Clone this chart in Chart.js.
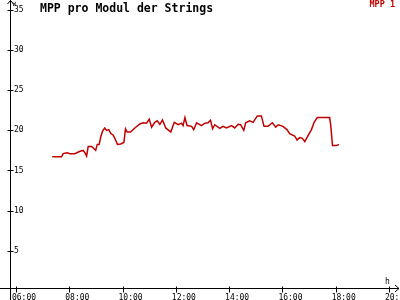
<!DOCTYPE html>
<html>
<head>
<meta charset="utf-8">
<script src="https://cdn.jsdelivr.net/npm/chart.js@4/dist/chart.umd.min.js"></script>
<style>
  html, body { margin: 0; padding: 0; background: #fff; }
  #wrap { width: 400px; height: 300px; position: relative; }
</style>
</head>
<body>
<div id="wrap"><canvas id="mppChart"></canvas></div>
<script>
// time of day in hours
const hours = [
    7.36, 7.71, 7.77, 7.92, 8.02, 8.21, 8.40, 8.52, 8.59, 8.65,
    8.71, 8.84, 8.90, 8.99, 9.05, 9.12, 9.19, 9.25, 9.33, 9.40,
    9.48, 9.56, 9.65, 9.75, 9.81, 9.93, 10.05, 10.11, 10.17, 10.30,
    10.46, 10.65, 10.77, 10.90, 11.00, 11.09, 11.21, 11.30, 11.40, 11.50,
    11.62, 11.81, 11.94, 12.09, 12.21, 12.27, 12.34, 12.42, 12.59, 12.67,
    12.78, 12.96, 13.09, 13.21, 13.30, 13.38, 13.46, 13.65, 13.77, 13.90,
    14.09, 14.21, 14.34, 14.43, 14.55, 14.62, 14.77, 14.90, 15.06, 15.21,
    15.31, 15.46, 15.62, 15.75, 15.84, 16.02, 16.17, 16.27, 16.46, 16.55,
    16.65, 16.75, 16.84, 16.92, 17.09, 17.19, 17.31, 17.77, 17.81, 17.88,
    18.03, 18.12
];
// MPP 1 power per module (W)
const mpp1 = [
    16.7, 16.7, 17.1, 17.2, 17.1, 17.1, 17.4, 17.5, 17.2, 16.8,
    18.0, 18.0, 17.8, 17.5, 18.25, 18.25, 19.3, 19.9, 20.3, 20.0,
    20.1, 19.6, 19.4, 18.7, 18.25, 18.3, 18.5, 20.2, 19.8, 19.8,
    20.3, 20.8, 20.95, 20.9, 21.4, 20.4, 21.0, 21.2, 20.75, 21.3,
    20.3, 19.8, 21.0, 20.7, 20.9, 20.6, 21.6, 20.6, 20.5, 20.1,
    20.95, 20.6, 20.9, 20.95, 21.25, 20.2, 20.7, 20.25, 20.5, 20.3,
    20.6, 20.3, 20.75, 20.7, 20.0, 20.95, 21.2, 21.0, 21.8, 21.8,
    20.5, 20.5, 20.95, 20.4, 20.7, 20.5, 20.1, 19.6, 19.3, 18.8,
    19.1, 19.0, 18.6, 19.1, 20.1, 21.0, 21.6, 21.6, 20.75, 18.1,
    18.1, 18.25
];
const xTicks = [6, 8, 10, 12, 14, 16, 18, 20];
const xTickLabels = ['06:00', '08:00', '10:00', '12:00', '14:00', '16:00', '18:00', '20:00'];
const yTicks = [5, 10, 15, 20, 25, 30, 35];

const MONO = '"DejaVu Sans Mono", "Liberation Mono", monospace';

// axes with arrows, small tick crosses, title, legend and units
const decorations = {
    id: 'decorations',
    afterDraw(chart) {
        const ctx = chart.ctx;
        const xs = chart.scales.x;
        const ys = chart.scales.y;
        const ax = Math.round(chart.chartArea.left) - 0.5;
        const ay = Math.round(chart.chartArea.bottom) - 0.5;
        ctx.save();
        ctx.strokeStyle = '#000';
        ctx.lineWidth = 1;
        ctx.beginPath();
        ctx.moveTo(ax, 0);
        ctx.lineTo(ax, 300);
        ctx.moveTo(0, ay);
        ctx.lineTo(399, ay);
        // arrow heads
        ctx.moveTo(ax - 3, 4);
        ctx.lineTo(ax, 0.5);
        ctx.lineTo(ax + 3, 4);
        ctx.moveTo(395, ay - 3.5);
        ctx.lineTo(399, ay);
        ctx.lineTo(395, ay + 3.5);
        yTicks.forEach(v => {
            const py = Math.round(ys.getPixelForValue(v)) + 0.5;
            ctx.moveTo(ax - 3, py);
            ctx.lineTo(ax + 3, py);
        });
        xTicks.forEach(v => {
            const px = Math.round(xs.getPixelForValue(v)) + 0.5;
            ctx.moveTo(px, ay - 2);
            ctx.lineTo(px, ay + 4);
        });
        ctx.stroke();

        ctx.fillStyle = '#000';
        ctx.textBaseline = 'top';
        ctx.textAlign = 'left';
        ctx.font = 'bold 11.5px ' + MONO;
        ctx.fillText('MPP pro Modul der Strings', 40, 3);
        ctx.font = '6px ' + MONO;
        ctx.fillText('W', ax + 2, 1);
        ctx.font = '8px ' + MONO;
        ctx.fillText('h', 385, 278);
        ctx.fillStyle = '#c00000';
        ctx.textAlign = 'right';
        ctx.font = 'bold 8.5px ' + MONO;
        ctx.fillText(chart.data.datasets[0].label, 395, 1);
        ctx.restore();
    }
};

new Chart(document.getElementById('mppChart'), {
    type: 'line',
    data: {
        datasets: [{
            label: 'MPP 1',
            data: hours.map((h, i) => ({ x: h, y: mpp1[i] })),
            borderColor: '#c00000',
            borderWidth: 1.5,
            pointRadius: 0,
            tension: 0,
            fill: false,
        }],
    },
    options: {
        responsive: true,
        maintainAspectRatio: false,
        animation: false,
        layout: { padding: { left: 11, right: 2, top: 0, bottom: 0 } },
        plugins: {
            legend: { display: false },
            title: { display: false },
            tooltip: { enabled: false },
        },
        scales: {
            x: {
                type: 'linear',
                min: 5.812,
                max: 20.338,
                afterBuildTicks: (scale) => { scale.ticks = xTicks.map(v => ({ value: v })); },
                afterFit: (scale) => {
                    scale.height = 11;
                    scale.paddingLeft = 0;
                    scale.paddingRight = 0;
                },
                grid: { display: false, drawTicks: false },
                border: { display: false },
                ticks: {
                    autoSkip: false,
                    maxRotation: 0,
                    padding: 4,
                    labelOffset: 8,
                    color: '#000',
                    font: { family: MONO, size: 8 },
                    callback: (v) => xTickLabels[xTicks.indexOf(v)],
                },
            },
            y: {
                min: 0.226,
                max: 36.25,
                afterBuildTicks: (scale) => { scale.ticks = yTicks.map(v => ({ value: v })); },
                afterFit: (scale) => {
                    scale.width = 0;
                    scale.paddingTop = 0;
                    scale.paddingBottom = 0;
                },
                grid: { display: false, drawTicks: false },
                border: { display: false },
                ticks: {
                    mirror: true,
                    padding: 3,
                    color: '#000',
                    font: { family: MONO, size: 8 },
                },
            },
        },
    },
    plugins: [decorations],
});
</script>
</body>
</html>
